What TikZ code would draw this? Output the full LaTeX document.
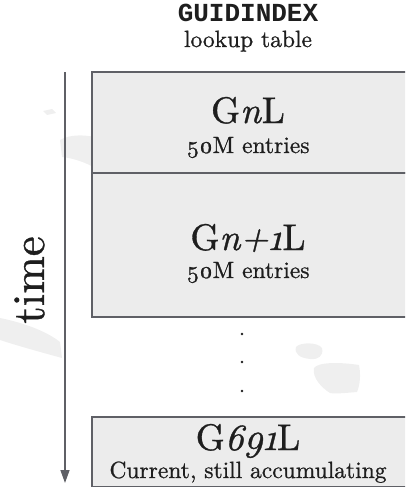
\RequirePackage{fix-cm}
\documentclass[tikz,border=0pt]{standalone}
\usepackage{fontspec}
\usetikzlibrary{arrows.meta}
\setmainfont{lmroman10-regular.otf}[ItalicFont=lmroman10-italic.otf, BoldFont=lmroman10-bold.otf, BoldItalicFont=lmroman10-bolditalic.otf, FakeBold=0.9]
\newfontfamily\monob{Liberation Mono}
\newcommand\osf[1]{{\addfontfeature{Numbers=OldStyle}#1}}
\definecolor{boxfill}{HTML}{ECECEC}
\definecolor{boxline}{HTML}{5F6066}
\definecolor{blob}{HTML}{EFEFEF}
\definecolor{ink}{HTML}{1E1E1E}
\tikzset{
  slab/.style={draw=boxline, line width=1.6pt, fill=boxfill, rectangle, inner sep=0pt, anchor=north west},
  big/.style={text=ink, inner sep=0pt, anchor=base, font=\fontsize{37}{40}\selectfont},
  small/.style={text=ink, inner sep=0pt, anchor=base, font=\fontsize{23.5}{26}\selectfont},
  dotmark/.style={circle, fill=ink, inner sep=0pt, minimum size=2.8pt},
}
\begin{document}
\begin{tikzpicture}[x=1pt,y=-1pt]
\useasboundingbox (0,0) rectangle (405,487);
\clip (0,0) rectangle (405,487);
% faint background blobs
\fill[blob] (43,111) -- (52,109) -- (56,113) -- (47,115) -- cycle;
\fill[blob] (60,140) .. controls (70,134) and (85,135) .. (95,137) -- (95,168) .. controls (85,162) and (72,158) .. (62,157) -- cycle;
\fill[blob] (0,318) .. controls (20,322) and (45,330) .. (60,342) -- (62,358) .. controls (40,352) and (15,345) .. (0,340) -- cycle;
\fill[blob] (296,347) .. controls (300,342) and (318,342) .. (322,348) .. controls (324,356) and (318,360) .. (310,359) .. controls (300,358) and (294,354) .. (296,347) -- cycle;
\fill[blob] (314,368) .. controls (318,362) and (340,362) .. (359,365) .. controls (361,375) and (360,385) .. (357,392) .. controls (345,393) and (335,394) .. (330,393) .. controls (322,388) and (312,378) .. (314,368) -- cycle;
% title
\node[text=ink, inner sep=0pt, anchor=base, font=\monob\bfseries\fontsize{26}{28}\selectfont] (title) at (248,22) {GUIDINDEX};
\node[small] (sub) at (248,47) {lookup table};
% time arrow
\coordinate (tstart) at (65,72);
\coordinate (tend) at (65,483);
\draw[boxline, line width=1.4pt, -{Triangle[length=13pt,width=9pt]}] (tstart) -- (tend);
\node[text=ink, inner sep=0pt, rotate=90, anchor=base, font=\fontsize{45}{48}\selectfont] (time) at (44,280) {time};
% slabs
\node[slab, minimum width=330pt, minimum height=101pt] (s1) at (91,71) {};
\node[slab, minimum width=330pt, minimum height=144pt] (s2) at (91,172) {};
\node[slab, minimum width=330pt, minimum height=70pt] (s3) at (91,416) {};
% labels
\node[big] (l1) at (248,123) {G\textit{n}L};
\node[small] (e1) at (248,153) {\osf{50}M entries};
\node[big] (l2) at (248,250) {G\textit{n+\osf{1}}L};
\node[small] (e2) at (248,278) {\osf{50}M entries};
\node[big] (l3) at (248,450) {G\textit{\osf{691}}L};
\node[small] (e3) at (248,478) {Current, still accumulating};
% dots
\node[dotmark] (d1) at (242,334) {};
\node[dotmark] (d2) at (242,362) {};
\node[dotmark] (d3) at (242,391) {};
\end{tikzpicture}
\end{document}
